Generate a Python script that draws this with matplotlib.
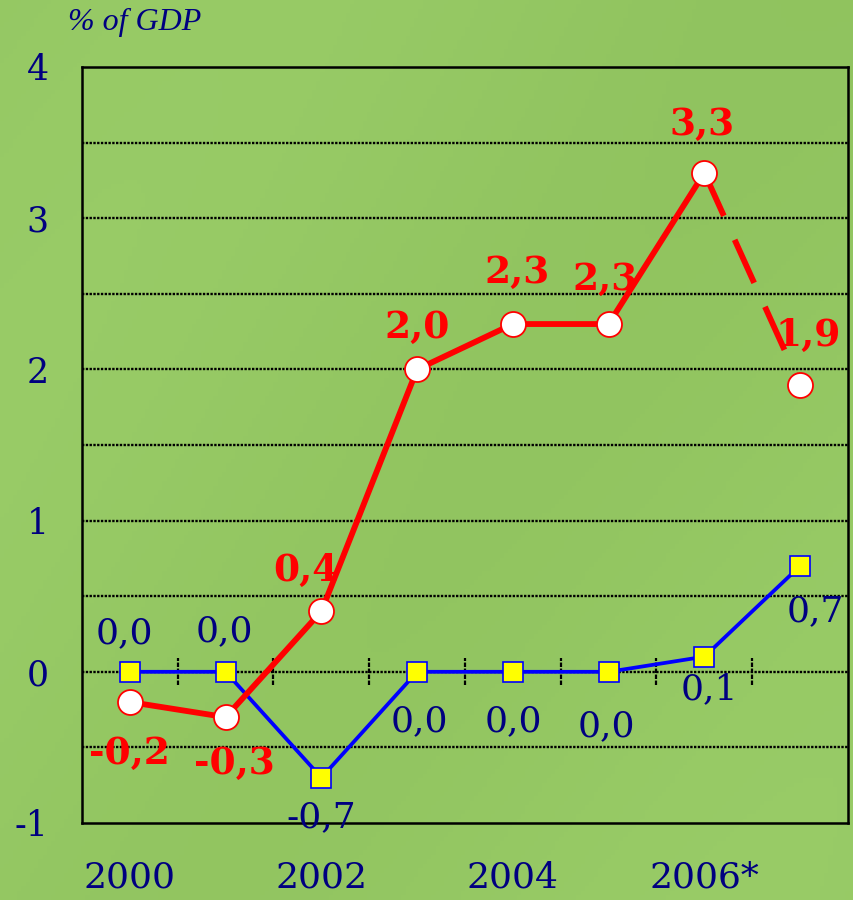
import numpy as np
import matplotlib.pyplot as plt
from matplotlib.colors import LinearSegmentedColormap

# Data
years = ['2000', '2001', '2002', '2003', '2004', '2005', '2006', '2007']
red_values = [-0.2, -0.3, 0.4, 2.0, 2.3, 2.3, 3.3, 1.9]
blue_values = [0.0, 0.0, -0.7, 0.0, 0.0, 0.0, 0.1, 0.7]
red_labels = ['-0,2', '-0,3', '0,4', '2,0', '2,3', '2,3', '3,3', '1,9']
blue_labels = ['0,0', '0,0', '-0,7', '0,0', '0,0', '0,0', '0,1', '0,7']
xtick_pos = [0, 2, 4, 6]
xtick_labels = ['2000', '2002', '2004', '2006*']
ytick_values = [-1, 0, 1, 2, 3, 4]
grid_values = [-0.5, 0.5, 1, 1.5, 2, 2.5, 3, 3.5]

# Label offsets in pixels (dx, dy)
red_off = [(0, -51), (9, -46), (-15, 41), (0, 42), (4, 52), (-4, 45), (-2, 48), (8, 49)]
blue_off = [(-5, 39), (-1, 41), (0, -40), (2, -49), (1, -49), (-2, -54), (5, -33), (15, -45)]

navy = '#000080'
red = '#ff0000'
blue = '#0000ff'

fig = plt.figure(figsize=(8.54, 9), dpi=100)
fig.patch.set_facecolor('#95c864')

# soft green background
bg = fig.add_axes([0, 0, 1, 1], zorder=-10)
yy, xx = np.mgrid[0:1:200j, 0:1:200j]
shade = 0.55 + 0.2 * np.sin(5 * (xx + 0.7 * yy)) - 0.15 * xx * (1 - yy)
cmap = LinearSegmentedColormap.from_list('g', ['#8dc05c', '#9ccf6a'])
bg.imshow(shade, cmap=cmap, aspect='auto', extent=[0, 1, 0, 1], vmin=0, vmax=1)
bg.axis('off')

ax = fig.add_axes([82 / 854, 1 - 823 / 900, 766 / 854, 756 / 900])
ax.set_facecolor('none')
x = np.arange(len(years))
ax.set_xlim(-0.5, len(years) - 0.5)
ax.set_ylim(-1, 4)

for g in grid_values + [0]:
    ax.axhline(g, color='black', lw=1.7, linestyle=(0, (1, 0.6)), zorder=1)
ax.vlines(np.arange(0.5, len(years) - 1, 1), -0.09, 0.09, colors='black', lw=1.6,
          linestyles=(0, (2, 0.7)), zorder=1)

# blue series
ax.plot(x, blue_values, color=blue, lw=2.7, zorder=3)
ax.plot(x, blue_values, linestyle='none', marker='s', markersize=14.5,
        markerfacecolor='#ffff00', markeredgecolor=blue, markeredgewidth=1.2, zorder=5)

# red series: solid up to 2006, dashed to 2007
ax.plot(x[:-1], red_values[:-1], color=red, lw=4.2, zorder=4, solid_capstyle='butt')
ax.plot(x[-2:], red_values[-2:], color=red, lw=4.2, zorder=4,
        linestyle=(0, (8.1, 4.5)), dash_capstyle='butt')
ax.plot(x, red_values, linestyle='none', marker='o', markersize=18,
        markerfacecolor='white', markeredgecolor=red, markeredgewidth=1.3, zorder=6)

for i in range(len(years)):
    ax.annotate(red_labels[i], (x[i], red_values[i]), xytext=red_off[i],
                textcoords='offset pixels', ha='center', va='center',
                color=red, fontsize=27, fontweight='bold', family='DejaVu Serif', zorder=7)
    ax.annotate(blue_labels[i], (x[i], blue_values[i]), xytext=blue_off[i],
                textcoords='offset pixels', ha='center', va='center',
                color=navy, fontsize=26, family='DejaVu Serif', zorder=7)

ax.set_xticks(xtick_pos)
ax.set_xticklabels(xtick_labels, fontsize=26, color=navy, family='DejaVu Serif')
ax.tick_params(axis='x', length=0, pad=27)
ax.set_yticks(ytick_values)
ax.set_yticklabels([str(v) for v in ytick_values], fontsize=25, color=navy, family='DejaVu Serif')
ax.tick_params(axis='y', length=0, pad=24)

for s in ax.spines.values():
    s.set_color('black')
    s.set_linewidth(1.8)

fig.text(68 / 854, 1 - 22 / 900, '% of GDP', fontsize=23, style='italic', color=navy,
         family='Liberation Serif', ha='left', va='center')

fig.savefig('out.png', dpi=100, facecolor=fig.get_facecolor())
